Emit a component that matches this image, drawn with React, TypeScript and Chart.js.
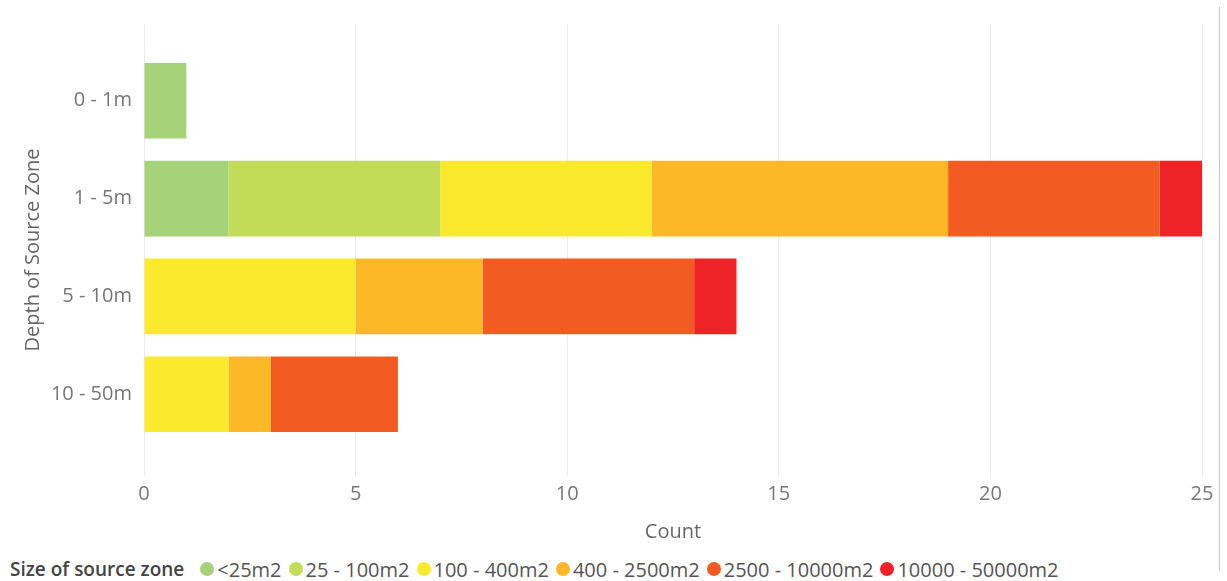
import React, { useEffect, useRef } from 'react';
import { Chart, registerables } from 'chart.js';

Chart.register(...registerables);

// Depth bands (rows) and source-zone size classes (stacked segments)
const depthLabels = ['0 - 1m', '1 - 5m', '5 - 10m', '10 - 50m'];
const sizeClasses = ['<25m2', '25 - 100m2', '100 - 400m2', '400 - 2500m2', '2500 - 10000m2', '10000 - 50000m2'];
const sizeColors = ['#a6d279', '#c2dc5a', '#fbe92e', '#fdb827', '#f25c22', '#ee2328'];

// Counts per depth band, one array per size class
const under25 = [1, 2, 0, 0];
const from25to100 = [0, 5, 0, 0];
const from100to400 = [0, 5, 5, 2];
const from400to2500 = [0, 7, 3, 1];
const from2500to10000 = [0, 5, 5, 3];
const from10000to50000 = [0, 1, 1, 0];

const countTicks = [0, 5, 10, 15, 20, 25];

const seriesValues = [under25, from25to100, from100to400, from400to2500, from2500to10000, from10000to50000];

const FONT = '"Open Sans", "Noto Sans", sans-serif';

export default function App() {
  const canvasRef = useRef<HTMLCanvasElement | null>(null);

  useEffect(() => {
    document.body.style.margin = '0';
    const ctx = canvasRef.current;
    if (!ctx) return;

    const datasets = sizeClasses.map((name, s) => ({
      label: name,
      data: seriesValues[s].map((v, i) => ({ x: v, y: i })),
      backgroundColor: sizeColors[s],
      borderWidth: 0,
      barPercentage: 0.773,
      categoryPercentage: 1,
    }));

    const chart = new Chart(ctx, {
      type: 'bar',
      data: { datasets },
      options: {
        indexAxis: 'y',
        animation: false,
        responsive: false,
        maintainAspectRatio: false,
        layout: { padding: { left: 10, right: 25, top: 24, bottom: 4 } },
        plugins: {
          legend: { display: false },
          tooltip: { enabled: false },
        },
        scales: {
          x: {
            type: 'linear',
            stacked: true,
            min: countTicks[0],
            max: countTicks[countTicks.length - 1],
            afterBuildTicks: (axis: any) => {
              axis.ticks = countTicks.map((v) => ({ value: v }));
            },
            grid: { color: '#ebebeb', lineWidth: 1, drawTicks: false },
            border: { display: false },
            ticks: {
              color: '#777777',
              padding: 6,
              font: { family: FONT, size: 20 },
            },
            title: {
              display: true,
              text: 'Count',
              color: '#666666',
              padding: { top: 8, bottom: 0 },
              font: { family: FONT, size: 20 },
            },
          },
          y: {
            type: 'linear',
            stacked: true,
            reverse: true,
            offset: false,
            min: -0.784,
            max: 3.835,
            afterBuildTicks: (axis: any) => {
              axis.ticks = depthLabels.map((_, i) => ({ value: i }));
            },
            afterFit: (axis: any) => {
              axis.width = 134;
            },
            grid: { display: false, offset: false },
            border: { display: false },
            ticks: {
              color: '#777777',
              padding: 4,
              font: { family: FONT, size: 20 },
              callback: (v: any) => depthLabels[v as number] ?? '',
            },
            title: {
              display: true,
              text: 'Depth of Source Zone',
              color: '#666666',
              padding: { top: 11, bottom: 5 },
              font: { family: FONT, size: 20 },
            },
          },
        },
      },
    } as any);

    return () => chart.destroy();
  }, []);

  return (
    <div style={{ position: 'relative', width: 1227, height: 581, background: '#ffffff', overflow: 'hidden' }}>
      <canvas ref={canvasRef} width={1227} height={548} style={{ display: 'block' }} />
      <div
        style={{
          position: 'absolute',
          left: 1219,
          top: 7,
          width: 1,
          height: 564,
          background: '#c8c8c8',
        }}
      />
      <div
        style={{
          position: 'absolute',
          left: 10,
          top: 555,
          height: 28,
          display: 'flex',
          alignItems: 'center',
          fontFamily: FONT,
          fontSize: 20,
          color: '#555555',
          whiteSpace: 'nowrap',
        }}
      >
        <span style={{ fontWeight: 600, fontSize: 19, color: '#444444', marginRight: 16 }}>Size of source zone</span>
        {sizeClasses.map((name, s) => (
          <span key={name} style={{ display: 'flex', alignItems: 'center', marginRight: 7 }}>
            <span
              style={{
                display: 'inline-block',
                width: 14,
                height: 14,
                borderRadius: '50%',
                background: sizeColors[s],
                marginRight: 3,
              }}
            />
            {name}
          </span>
        ))}
      </div>
    </div>
  );
}
